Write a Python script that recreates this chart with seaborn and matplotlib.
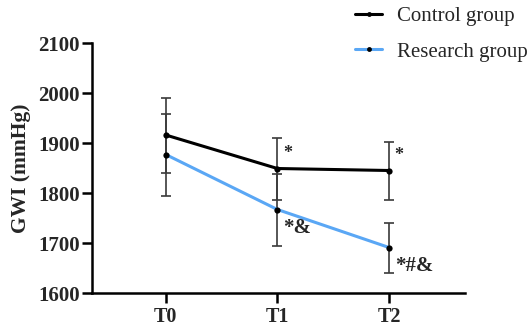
import pandas as pd
import matplotlib
matplotlib.use("Agg")
import matplotlib.pyplot as plt
import seaborn as sns

# 数据（从图中读取的均值与标准差）
time_points = ["T0", "T1", "T2"]
control_mean = [1916, 1849, 1845]
control_sd = [75, 62, 58]
research_mean = [1877, 1767, 1691]
research_sd = [82, 72, 50]
control_marks = ["", "*", "*"]
research_marks = ["", "*&", "*#&"]

sns.set_style("ticks")
plt.rcParams['font.family'] = ['Liberation Serif', 'DejaVu Serif']

df = pd.DataFrame({
    "x": list(range(3)) * 2,
    "GWI": control_mean + research_mean,
    "group": ["Control group"] * 3 + ["Research group"] * 3,
})

fig = plt.figure(figsize=(5.31, 3.29), dpi=100)
ax = fig.add_axes([0.1733, 0.1094, 0.7024, 0.7599])

palette = {"Control group": "#000000", "Research group": "#5aa7f5"}
sns.lineplot(data=df, x="x", y="GWI", hue="group", palette=palette, ax=ax,
             linewidth=2.2, marker="o", markersize=4.5, markeredgewidth=0,
             markerfacecolor="black", legend=False, zorder=3)

xs = list(range(3))
ax.errorbar(xs, control_mean, yerr=control_sd, fmt="none", ecolor="#3a3a3a",
            elinewidth=1.2, capsize=3.5, capthick=1.2, zorder=2)
ax.errorbar(xs, research_mean, yerr=research_sd, fmt="none", ecolor="#3a3a3a",
            elinewidth=1.2, capsize=3.5, capthick=1.2, zorder=2)

# 显著性标记
for i in xs:
    if control_marks[i]:
        ax.text(i + 0.05, control_mean[i] + 30, control_marks[i], fontsize=13,
                fontweight="bold", ha="left", va="center")
    if research_marks[i]:
        ax.text(i + 0.05, research_mean[i] - 36, research_marks[i], fontsize=15,
                fontweight="bold", ha="left", va="center")

ax.set_xlim(-0.66, 2.68)
ax.set_ylim(1600, 2100)
ax.set_yticks(range(1600, 2101, 100))
ax.set_xticks(xs)
ax.set_xticklabels(time_points)
ax.set_xlabel("")
ax.set_ylabel("GWI (mmHg)", fontsize=15.5, fontweight="bold", labelpad=5)
for lab in ax.get_yticklabels():
    lab.set_fontweight("bold")
    lab.set_fontsize(15)
for lab in ax.get_xticklabels():
    lab.set_fontweight("bold")
    lab.set_fontsize(14.5)
ax.tick_params(axis="both", width=1.8, length=7, color="black", pad=2)
ax.tick_params(axis="x", pad=3)
for s in ["left", "bottom"]:
    ax.spines[s].set_linewidth(1.8)
    ax.spines[s].set_color("black")
sns.despine(ax=ax)

# 图例
handles = [
    plt.Line2D([], [], color="#000000", lw=2.2, marker="o", markersize=3.5,
               markerfacecolor="black", markeredgewidth=0),
    plt.Line2D([], [], color="#5aa7f5", lw=2.2, marker="o", markersize=3.5,
               markerfacecolor="black", markeredgewidth=0),
]
fig.legend(handles, ["Control group", "Research group"], loc="upper left",
           bbox_to_anchor=(0.6685, 0.979), frameon=False, fontsize=15,
           borderpad=0, borderaxespad=0,
           handlelength=1.3, handletextpad=0.72, labelspacing=0.75)

fig.savefig("out.png", dpi=100)
